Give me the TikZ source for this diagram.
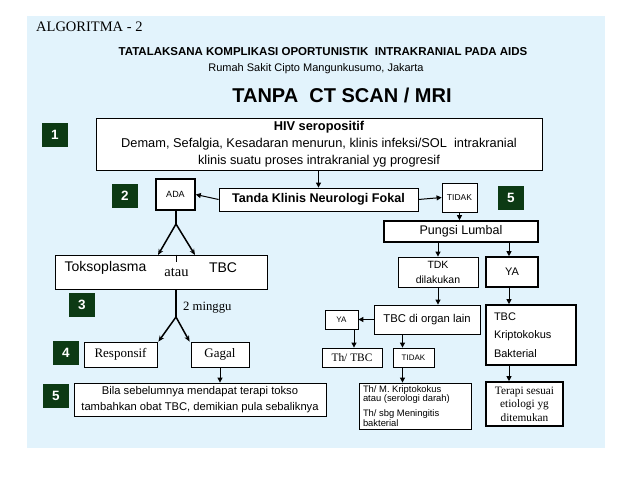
\documentclass[tikz,border=0pt]{standalone}
\usepackage{fontspec}
\setmainfont{Liberation Sans}
\newfontfamily\tms{Liberation Serif}
\usetikzlibrary{arrows.meta}
\definecolor{bgblue}{RGB}{226,243,252}
\definecolor{badgegreen}{RGB}{12,58,20}
\begin{document}
\begin{tikzpicture}[x=1pt,y=-1pt,
  box/.style={draw=black, fill=white, line width=0.8pt, inner sep=0pt, align=center},
  thickbox/.style={box, line width=1.6pt},
  lbl/.style={inner sep=0pt, align=center},
  badge/.style={fill=badgegreen, text=white, font=\fontsize{13.5}{13}\selectfont\bfseries, minimum width=26pt, minimum height=24pt, inner sep=0pt},
  arr/.style={-{Triangle[length=5pt,width=5pt]}, line width=1pt},
  fork/.style={line width=1.5pt},
  forkarr/.style={fork, -{Stealth[length=6pt,width=5pt]}}
]
\useasboundingbox (0,0) rectangle (638,479);
\fill[white] (0,0) rectangle (638,479);
\fill[bgblue] (27,16) rectangle (605,448);

% titles
\node[lbl, anchor=west, font=\tms\fontsize{14.5}{14}\selectfont] (algo) at (36,27) {ALGORITMA - 2};
\node[lbl, font=\fontsize{11.5}{12}\selectfont\bfseries] (t1) at (323,52) {TATALAKSANA KOMPLIKASI OPORTUNISTIK~ INTRAKRANIAL PADA AIDS};
\node[lbl, font=\fontsize{11}{12}\selectfont] (t2) at (316,69) {Rumah Sakit Cipto Mangunkusumo, Jakarta};
\node[lbl, font=\fontsize{20}{20}\selectfont\bfseries] (t3) at (342,95) {TANPA~ CT SCAN / MRI};

% badges
\node[badge] (b1) at (55,135) {1};
\node[badge] (b2) at (125,195.5) {2};
\node[badge] (b5a) at (511,198) {5};
\node[badge] (b3) at (82,304.5) {3};
\node[badge] (b4) at (66,353) {4};
\node[badge] (b5b) at (56,395.5) {5};

% boxes
\node[box, minimum width=446pt, minimum height=52pt, font=\fontsize{12.8}{17}\selectfont] (hiv) at (319,144)
  {{\bfseries HIV seropositif}\\Demam, Sefalgia, Kesadaran menurun, klinis infeksi/SOL~ intrakranial\\klinis suatu proses intrakranial yg progresif};
\node[box, minimum width=199pt, minimum height=23pt, font=\fontsize{12.6}{14}\selectfont\bfseries] (tanda) at (318.5,199.5) {Tanda Klinis Neurologi Fokal};
\node[thickbox, minimum width=39pt, minimum height=31pt, font=\fontsize{9}{10}\selectfont] (ada) at (175.5,194.5) {ADA};
\node[box, minimum width=35pt, minimum height=29pt, font=\fontsize{8.5}{10}\selectfont] (tidak1) at (459.5,197.5) {TIDAK};
\node[thickbox, minimum width=154pt, minimum height=21pt, font=\fontsize{12.5}{14}\selectfont] (pungsi) at (461,231.5) {Pungsi Lumbal};

\node[box, minimum width=212pt, minimum height=34pt] (toks) at (161,272) {};
\node[lbl, font=\fontsize{14}{14}\selectfont] (tokslbl) at (105.5,268) {Toksoplasma};
\node[lbl, font=\tms\fontsize{14.5}{14}\selectfont] (ataulbl) at (176.5,272) {atau};
\node[lbl, font=\fontsize{14}{14}\selectfont] (tbclbl) at (223,268) {TBC};

\node[lbl, anchor=west, font=\tms\fontsize{12.7}{14}\selectfont] (minggu) at (183,308) {2 minggu};
\node[box, minimum width=73pt, minimum height=25pt, font=\tms\fontsize{13}{14}\selectfont] (resp) at (120.5,354.5) {Responsif};
\node[box, minimum width=58pt, minimum height=25pt, font=\tms\fontsize{13}{14}\selectfont] (gagal) at (220,354.5) {Gagal};
\node[box, minimum width=252pt, minimum height=33pt, font=\fontsize{11.2}{16}\selectfont] (bila) at (200,399.5)
  {Bila sebelumnya mendapat terapi tokso\\tambahkan obat TBC, demikian pula sebaliknya};

\node[box, minimum width=80pt, minimum height=30pt, font=\fontsize{10.5}{15}\selectfont] (tdk) at (438,272) {TDK\\dilakukan};
\node[thickbox, minimum width=52pt, minimum height=30pt, font=\fontsize{11}{12}\selectfont] (yar) at (512,272) {YA};
\node[box, minimum width=106pt, minimum height=29pt, font=\fontsize{11.3}{12}\selectfont] (organ) at (427,319.5) {TBC di organ lain};
\node[box, minimum width=33pt, minimum height=19pt, font=\fontsize{8}{10}\selectfont] (yas) at (341.5,319.5) {YA};
\node[box, minimum width=60pt, minimum height=19pt, font=\tms\fontsize{11.4}{12}\selectfont] (thtbc) at (352,357.5) {Th/ TBC};
\node[box, minimum width=41pt, minimum height=19pt, font=\fontsize{8}{10}\selectfont] (tidak2) at (413.5,357.5) {TIDAK};
\node[box, minimum width=112pt, minimum height=46pt, align=left, font=\fontsize{9.4}{8}\selectfont] (thm) at (415,406)
  {\parbox{104pt}{Th/ M. Kriptokokus\\atau (serologi darah)\\[5pt]Th/ sbg Meningitis\\bakterial}};
\node[thickbox, minimum width=90pt, minimum height=60pt, align=left, font=\fontsize{11}{18.5}\selectfont] (tbcr) at (531,335)
  {\parbox{74pt}{TBC\\Kriptokokus\\Bakterial}};
\node[thickbox, minimum width=77pt, minimum height=44pt, font=\tms\fontsize{11.3}{13.5}\selectfont] (terapi) at (524.5,404)
  {Terapi sesuai\\etiologi yg\\ditemukan};

% connectors
\coordinate (rx) at (509,0);
\coordinate (lx) at (354,0);
\coordinate (mx) at (402.5,0);
\draw[arr] (hiv.south -| tanda.north) -- (tanda.north);
\draw[arr] (tanda.west) -- (ada.east);
\draw[arr] (tanda.east) -- (tidak1.west);
\draw[arr] (tidak1.south) -- (tidak1.south |- pungsi.north);
\draw[arr] (tdk.north |- pungsi.south) -- (tdk.north);
\draw[arr] (rx |- pungsi.south) -- (rx |- yar.north);
\draw[arr] (tdk.south) -- (tdk.south |- organ.north);
\draw[arr] (organ.west) -- (yas.east);
\draw[arr] (lx |- yas.south) -- (lx |- thtbc.north);
\draw[arr] (mx |- organ.south) -- (mx |- tidak2.north);
\draw[arr] (mx |- tidak2.south) -- (mx |- thm.north);
\draw[arr] (rx |- yar.south) -- (rx |- tbcr.north);
\draw[arr] (rx |- tbcr.south) -- (rx |- terapi.north);
\draw[arr] (gagal.south) -- (gagal.south |- bila.north);

% forks
\coordinate (ap1) at (176,224);
\coordinate (f1) at (158,255);
\coordinate (f2) at (195,255);
\draw[fork] (ap1 |- ada.south) -- (ap1);
\draw[forkarr] (ap1) -- (f1);
\draw[forkarr] (ap1) -- (f2);
\draw[line width=0.8pt] (ap1 |- toks.north) -- ++(0,7);
\coordinate (ap2) at (176,317);
\draw[fork] (ap2 |- toks.south) -- (ap2);
\draw[forkarr] (ap2) -- ([xshift=1pt]resp.north east);
\draw[forkarr] (ap2) -- ([xshift=-1pt]gagal.north west);
\end{tikzpicture}
\end{document}
